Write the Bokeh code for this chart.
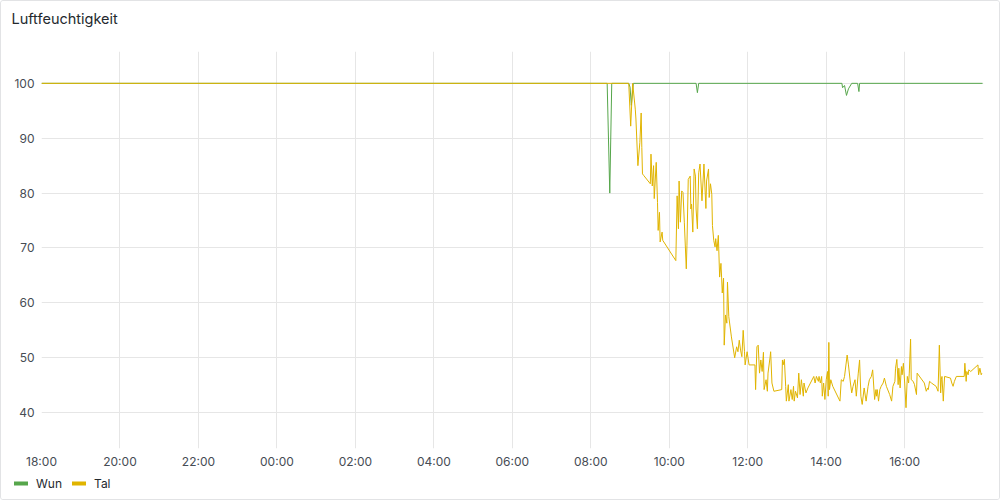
import pandas as pd
from bokeh.plotting import figure
from bokeh.layouts import column
from bokeh.models import (Range1d, FixedTicker, DatetimeTickFormatter, Legend, LegendItem, Label)
from bokeh.embed import file_html
from bokeh.resources import INLINE

# ---- data (minutes after 18:00 of day 1, relative humidity %) ----
wun_minutes = [0, 865, 869, 872, 898, 900, 902, 905, 1001, 1003, 1005, 1224, 1225, 1228,
               1231, 1234, 1239, 1248, 1250, 1251, 1439]
wun_values = [100, 100, 80, 100, 100, 99.3, 96, 100, 100, 98.3, 100, 100, 99.2, 99.6,
              97.8, 99.0, 100, 100, 98.5, 100, 100]

tal_minutes = [0, 898, 901, 904, 908, 909, 912, 915, 917, 918, 919, 921, 931, 932, 934, 936, 937,
               940, 942, 943, 945, 946, 949, 950, 970, 972, 974, 975, 977, 979, 981, 983, 986,
               987, 989, 992, 993, 994, 996, 998, 1000, 1001, 1003, 1005, 1007, 1010, 1013, 1016,
               1017, 1020, 1021, 1023, 1025, 1026, 1028, 1030, 1031, 1033, 1035, 1037, 1039, 1040,
               1041, 1043, 1044, 1046, 1048, 1049, 1051, 1055, 1060, 1063, 1065, 1067, 1069, 1071,
               1073, 1075, 1076, 1079, 1082, 1091, 1092, 1094, 1096, 1098, 1100, 1102, 1104, 1105,
               1108, 1110, 1111, 1114, 1115, 1117, 1120, 1132, 1133, 1134, 1136, 1138, 1139, 1142,
               1143, 1146, 1148, 1150, 1151, 1153, 1156, 1158, 1160, 1162, 1165, 1166, 1169, 1172,
               1181, 1183, 1185, 1188, 1189, 1191, 1193, 1194, 1196, 1198, 1200, 1202, 1203, 1204,
               1205, 1207, 1210, 1221, 1223, 1226, 1228, 1232, 1234, 1237, 1239, 1241, 1244, 1246,
               1249, 1251, 1253, 1255, 1258, 1261, 1264, 1266, 1269, 1271, 1274, 1276, 1277, 1278,
               1280, 1282, 1284, 1287, 1289, 1292, 1297, 1300, 1302, 1305, 1306, 1308, 1310, 1311,
               1313, 1315, 1316, 1318, 1320, 1322, 1324, 1326, 1327, 1329, 1330, 1333, 1335, 1338,
               1339, 1350, 1353, 1355, 1356, 1358, 1361, 1368, 1371, 1373, 1375, 1376, 1377, 1379,
               1381, 1390, 1392, 1394, 1396, 1399, 1411, 1412, 1414, 1415, 1417, 1418, 1421, 1432,
               1433, 1435, 1437, 1438]
tal_values = [100, 100, 92.2, 100, 95.3, 93.5, 85.0, 89.2, 94.6, 88.3, 83.5, 83.2, 81.7, 87.1, 81.3,
              85.0, 79.0, 85.6, 78.3, 73.2, 76.5, 71.1, 72.9, 71.4, 67.7, 79.5, 73.5, 82.2, 74.7,
              80.4, 80.1, 74.7, 66.2, 70.5, 82.5, 83.1, 77.1, 78.0, 72.9, 84.4, 83.1, 77.1, 73.5,
              83.7, 85.3, 78.6, 85.3, 77.2, 82.2, 84.4, 79.2, 81.7, 79.8, 74.1, 71.4, 70.2, 71.7,
              69.5, 72.3, 64.7, 67.2, 64.7, 61.8, 64.5, 52.3, 57.8, 56.3, 63.8, 57.5, 53.8, 50.0,
              52.0, 51.1, 53.2, 51.4, 50.2, 55.0, 51.1, 48.7, 51.1, 48.7, 48.7, 44.2, 52.0, 52.3,
              47.2, 49.6, 47.5, 51.0, 44.2, 46.0, 43.9, 47.2, 50.0, 51.1, 45.4, 43.9, 44.2, 49.6,
              48.7, 49.7, 44.8, 42.1, 45.1, 42.1, 44.2, 42.4, 44.8, 42.1, 43.9, 42.7, 47.2, 43.3,
              46.0, 43.0, 45.4, 43.6, 44.5, 46.6, 45.4, 46.6, 45.7, 46.6, 45.4, 46.6, 43.0, 45.4,
              42.4, 46.0, 47.5, 43.0, 52.8, 44.2, 46.0, 44.8, 42.1, 46.0, 45.7, 46.6, 50.5, 48.7,
              45.4, 43.6, 44.8, 46.0, 43.0, 47.2, 49.6, 43.0, 41.5, 44.5, 42.1, 44.8, 46.0, 46.6,
              47.8, 42.4, 44.2, 43.0, 44.2, 42.1, 44.2, 44.8, 45.4, 46.3, 44.8, 43.3, 42.1, 44.8,
              45.7, 48.1, 49.7, 45.1, 48.1, 44.5, 48.4, 46.9, 49.0, 45.4, 40.9, 46.6, 45.4, 47.2,
              53.4, 46.0, 45.7, 45.1, 43.3, 47.2, 45.4, 43.9, 44.5, 44.2, 45.7, 45.4, 44.8, 43.9,
              52.3, 43.6, 46.0, 46.6, 42.1, 46.6, 46.3, 45.4, 44.8, 45.7, 46.6, 46.6, 49.0, 45.7,
              47.5, 46.9, 47.8, 47.5, 48.7, 46.9, 48.1, 46.9, 47.2]

chart_title = "Luftfeuchtigkeit"
series_names = ["Wun", "Tal"]
series_colors = ["#56a64b", "#e0b400"]
y_ticks = [40, 50, 60, 70, 80, 90, 100]
x_tick_hours = [0, 2, 4, 6, 8, 10, 12, 14, 16, 18, 20, 22]   # 18:00 ... 16:00

start = pd.Timestamp("2023-05-14 18:00")
TEXT_DARK = "#24292e"
FONT = "Inter"
NAN = float("nan")


def to_dt(mins):
    return [start + pd.Timedelta(minutes=m) for m in mins]


def strip(height):
    f = figure(width=1000, height=height, output_backend="svg", toolbar_location=None,
               x_range=Range1d(0, 1000), y_range=Range1d(0, height),
               x_axis_location=None, y_axis_location=None, frame_align=False,
               min_border_left=0, min_border_right=0, min_border_top=0, min_border_bottom=0,
               background_fill_color="white", border_fill_color="white")
    f.outline_line_color = None
    f.xgrid.visible = False
    f.ygrid.visible = False
    return f


# ---- title strip ----
top = strip(50)
top.add_layout(Label(x=10, y=33, text=chart_title, text_font=FONT, text_font_size="14.5px",
                     text_color=TEXT_DARK, text_baseline="middle", text_align="left"))

# ---- main chart ----
p = figure(width=1000, height=420, output_backend="svg", toolbar_location=None,
           x_axis_type="datetime", frame_align=False,
           x_range=Range1d(start, start + pd.Timedelta(minutes=1440.5)),
           y_range=Range1d(33.47, 105.8),
           min_border_left=40, min_border_right=16, min_border_top=0, min_border_bottom=21,
           background_fill_color="white", border_fill_color="white")
p.outline_line_color = None

grid_color = "#e6e6e6"
p.xgrid.grid_line_color = grid_color
p.ygrid.grid_line_color = grid_color

tick_ms = [(start + pd.Timedelta(hours=h)).timestamp() * 1000 for h in x_tick_hours]
p.xaxis.ticker = FixedTicker(ticks=tick_ms)
fmt = "%H:%M"
p.xaxis.formatter = DatetimeTickFormatter(hours=fmt, hourmin=fmt, minutes=fmt, minsec=fmt,
                                          days=fmt, months=fmt, years=fmt)
p.yaxis.ticker = FixedTicker(ticks=y_ticks)

for ax in (p.xaxis[0], p.yaxis[0]):
    ax.axis_line_color = None
    ax.major_tick_line_color = None
    ax.minor_tick_line_color = None
    ax.major_tick_out = 0
    ax.major_tick_in = 0
    ax.minor_tick_out = 0
    ax.minor_tick_in = 0
    ax.major_label_text_font = FONT
    ax.major_label_text_font_size = "12px"
    ax.major_label_text_color = "#464c54"
p.xaxis.major_label_standoff = 5
p.yaxis.major_label_standoff = 7

p.line(to_dt(wun_minutes), wun_values, line_color=series_colors[0], line_width=1)
p.line(to_dt(tal_minutes), tal_values, line_color=series_colors[1], line_width=1)

# ---- legend strip (swatch renderers hold no visible points) ----
bot = strip(30)
leg_w = bot.line(x=[NAN], y=[NAN], line_color=series_colors[0], line_width=4, line_cap="round")
leg_t = bot.line(x=[NAN], y=[NAN], line_color=series_colors[1], line_width=4, line_cap="round")
legend = Legend(items=[LegendItem(label=series_names[0], renderers=[leg_w]),
                       LegendItem(label=series_names[1], renderers=[leg_t])],
                orientation="horizontal", location=(13, 10),
                glyph_width=14, glyph_height=16, label_height=16, label_standoff=8,
                spacing=10, padding=0, margin=0, border_line_color=None,
                background_fill_alpha=0, label_text_font=FONT,
                label_text_font_size="12px", label_text_color=TEXT_DARK)
bot.add_layout(legend, "center")

layout = column(top, p, bot, spacing=0)
layout.styles = {"border": "1px solid #e2e3e5", "border-radius": "3px",
                 "box-sizing": "border-box", "width": "1000px", "height": "500px",
                 "overflow": "hidden"}
open("out.html", "w").write(file_html(layout, INLINE))
